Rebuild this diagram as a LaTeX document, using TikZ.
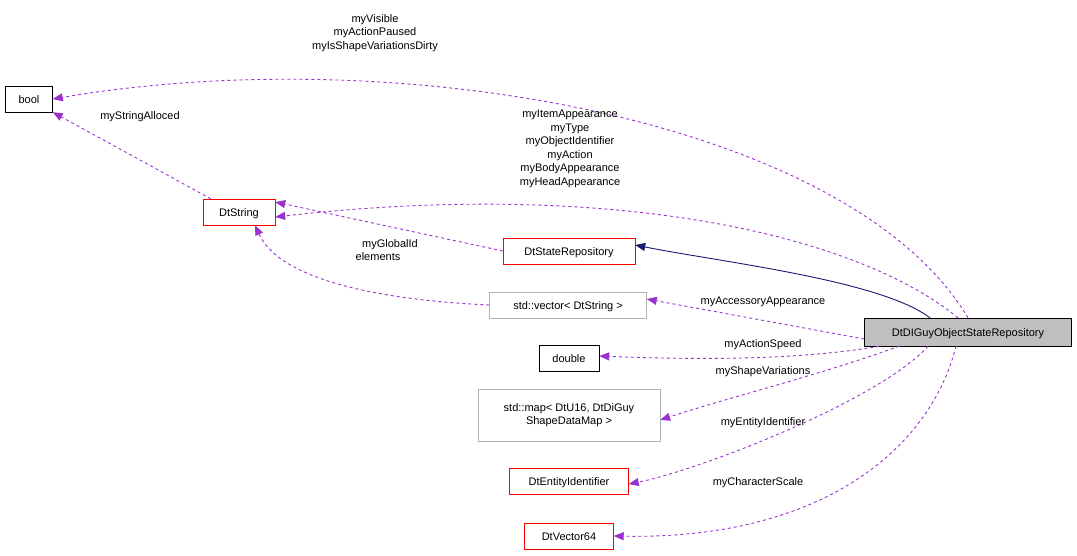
\documentclass[tikz,border=0pt]{standalone}
\usepackage{fontspec}
\setmainfont{Liberation Sans}
\usetikzlibrary{arrows.meta}
\definecolor{edgep}{HTML}{9A32CD}
\definecolor{navy}{HTML}{191970}
\begin{document}
\begin{tikzpicture}[x=1pt,y=-1pt,
  every node/.style={font=\fontsize{11}{13.5}\selectfont},
  box/.style={rectangle,inner sep=0pt,minimum height=26pt,align=center,fill=white,text depth=0pt,text height=8pt},
  blkbox/.style={box,draw=black},
  redbox/.style={box,draw=red},
  grybox/.style={box,draw=gray!60},
  mem/.style={draw=edgep,dashed,line width=0.9pt,-{Triangle[length=10pt,width=8pt,fill=edgep]}},
  lbl/.style={align=center,inner sep=0pt}]
\useasboundingbox (0,0) rectangle (1077,555);
\node[blkbox,minimum width=47pt] (bool) at (29,99) {bool};
\node[redbox,draw=red,minimum width=72pt] (dts) at (239,212) {DtString};
\node[redbox,minimum width=132pt] (dsr) at (569,251) {DtStateRepository};
\node[grybox,minimum width=157pt] (vec) at (568,305) {std::vector< DtString >};
\node[blkbox,minimum width=60pt] (dbl) at (569,358) {double};
\node[grybox,minimum width=182pt,minimum height=52pt,text height=,text depth=] (map) at (569,415) {std::map< DtU16, DtDiGuy\\ShapeDataMap >};
\node[redbox,minimum width=119pt] (eid) at (569,481) {DtEntityIdentifier};
\node[redbox,minimum width=89pt] (v64) at (569,536) {DtVector64};
\node[blkbox,fill=black!25,minimum width=207pt,minimum height=28pt] (main) at (968,332) {DtDIGuyObjectStateRepository};

\draw[mem] (main.north) .. controls (850,120) and (400,40) .. (bool.east);
\node[lbl] (l1) at (375,33) {myVisible\\myActionPaused\\myIsShapeVariationsDirty};
\draw[mem] ([xshift=8pt]dts.north west) -- (bool.south east);
\node[lbl] (l2) at (140,117) {myStringAlloced};
\draw[mem] ([xshift=-10pt]main.north) .. controls (850,230) and (600,180) .. ([yshift=-5pt]dts.east);
\node[lbl] (l3) at (570,149) {myItemAppearance\\myType\\myObjectIdentifier\\myAction\\myBodyAppearance\\myHeadAppearance};
\draw[mem] (dsr.west) -- ([yshift=10pt]dts.east);
\node[lbl] (l4) at (390,245) {myGlobalId};
\draw[mem] (vec.west) .. controls (380,300) and (280,280) .. ([xshift=16pt]dts.south);
\node[lbl] (l5) at (378,257) {elements};
\draw[navy,line width=0.9pt,-{Triangle[length=10pt,width=8pt,fill=navy]}] ([xshift=-38pt]main.north) .. controls (880,280) and (720,262) .. ([yshift=6pt]dsr.east);
\draw[mem] ([yshift=-7pt]main.west) -- ([yshift=6pt]vec.east);
\node[lbl] (l6) at (763,302) {myAccessoryAppearance};
\draw[mem] ([xshift=15pt]main.south west) .. controls (800,360) and (700,360) .. ([yshift=2pt]dbl.east);
\node[lbl] (l7) at (763,345) {myActionSpeed};
\draw[mem] ([xshift=35pt]main.south west) .. controls (820,375) and (720,400) .. ([yshift=-5pt]map.east);
\node[lbl] (l8) at (763,372) {myShapeVariations};
\draw[mem] ([xshift=-40pt]main.south) .. controls (880,400) and (700,470) .. ([yshift=-3pt]eid.east);
\node[lbl] (l9) at (763,423) {myEntityIdentifier};
\draw[mem] ([xshift=-12pt]main.south) .. controls (930,450) and (820,540) .. (v64.east);
\node[lbl] (l10) at (758,483) {myCharacterScale};
\end{tikzpicture}
\end{document}
